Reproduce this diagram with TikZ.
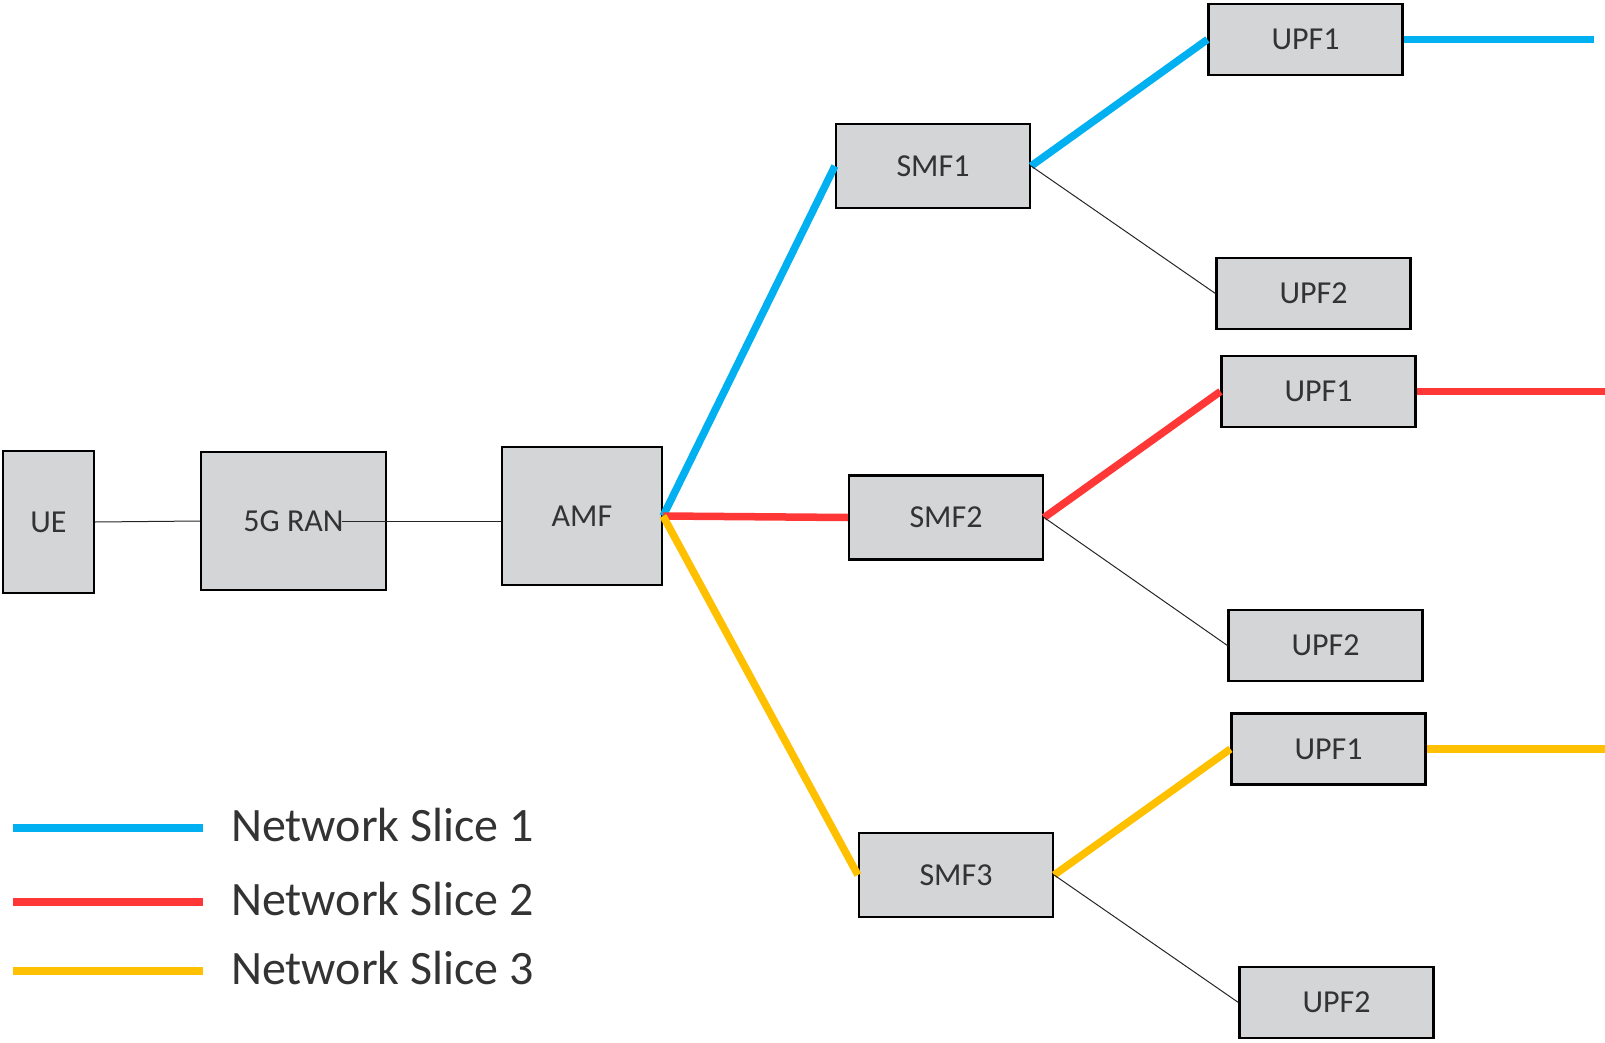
\documentclass[tikz,border=0pt]{standalone}
\usepackage{fontspec}
\setmainfont{Carlito}
\usetikzlibrary{calc}
\usetikzlibrary{positioning}

\definecolor{boxgray}{HTML}{D4D5D7}
\definecolor{textgray}{HTML}{333333}
\definecolor{sliceblue}{HTML}{00B0F0}
\definecolor{slicered}{HTML}{FF3737}
\definecolor{sliceyellow}{HTML}{FFC000}

\begin{document}
\begin{tikzpicture}[x=1pt, y=-1pt,
        box/.style={rectangle, draw=black, line width=2.2pt, fill=boxgray, text=textgray, inner sep=0pt, font=\fontsize{32}{38}\selectfont},
        smfbox/.style={box, minimum width=194pt, minimum height=84pt},
        upfbox/.style={box, minimum width=194pt, minimum height=71pt},
        link/.style={line width=1pt, black!85},
        slice/.style={line width=7.5pt}]
            \useasboundingbox (0, 0) rectangle (1605, 1043);

            % access side
            \node[box, minimum width=91pt, minimum height=142pt] (ue) at (48.5, 522) {UE};
            \node[box, minimum width=185pt, minimum height=138pt] (ran) at (293.5, 521) {5G RAN};
            \node[box, minimum width=160pt, minimum height=138pt] (amf) at (582, 516) {AMF};

            % session management
            \node[smfbox] (smf1) at (933, 166) {SMF1};
            \node[smfbox] (smf2) at (946, 517.5) {SMF2};
            \node[smfbox] (smf3) at (956, 875) {SMF3};

            % user plane
            \node[upfbox] (upf1a) at (1305.5, 39.5) {UPF1};
            \node[upfbox] (upf2a) at (1313.5, 293.5) {UPF2};
            \node[upfbox] (upf1b) at (1318.5, 391.5) {UPF1};
            \node[upfbox] (upf2b) at (1325.5, 645.5) {UPF2};
            \node[upfbox] (upf1c) at (1328.5, 749) {UPF1};
            \node[upfbox] (upf2c) at (1336.5, 1002.5) {UPF2};

            \coordinate (out1) at ($(upf1a.east) + (190, 0)$);
            \coordinate (out2) at ($(upf1b.east) + (200, 0)$);
            \coordinate (out3) at ($(upf1c.east) + (200, 0)$);
            \coordinate (ranout) at ($(ran.center) + (48, 0)$);

            \draw[link] (ue.east) -- (ran.west);
            \draw[link] (ranout) -- (ranout -| amf.west);

            \draw[slice, sliceblue] (amf.east) -- (smf1.west);
            \draw[slice, sliceblue] (smf1.east) -- (upf1a.west);
            \draw[slice, sliceblue] (upf1a.east) -- (out1);
            \draw[slice, slicered] (amf.east) -- (smf2.west);
            \draw[slice, slicered] (smf2.east) -- (upf1b.west);
            \draw[slice, slicered] (upf1b.east) -- (out2);
            \draw[slice, sliceyellow] (amf.east) -- (smf3.west);
            \draw[slice, sliceyellow] (smf3.east) -- (upf1c.west);
            \draw[slice, sliceyellow] (upf1c.east) -- (out3);

            \draw[link] (smf1.east) -- (upf2a.west);
            \draw[link] (smf2.east) -- (upf2b.west);
            \draw[link] (smf3.east) -- (upf2c.west);

            % legend
            \def\L{sliceblue/828, slicered/902, sliceyellow/971}
            \foreach \c/\y[count=\i from 1] in \L
            {
                \draw[line width=8pt, \c] (13, \y) -- (203, \y);
                \node[anchor=base west, inner sep=0pt, text=textgray, font=\fontsize{48}{54}\selectfont] (leg\i) at (231, \y + 13.5) {Network Slice \i};
            }
        \end{tikzpicture}
\end{document}
